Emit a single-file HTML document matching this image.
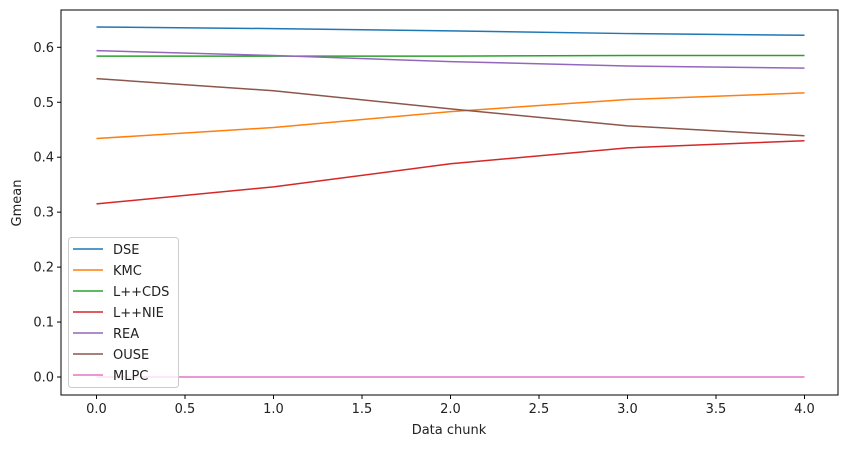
<!DOCTYPE html>
<html><head><meta charset="utf-8"><style>
body{margin:0;background:#fff;font-family:"Liberation Sans","DejaVu Sans",sans-serif}
svg text{font-family:"DejaVu Sans","Liberation Sans",sans-serif;font-size:13px;fill:#222}
</style></head><body>
<svg id="chart" width="846" height="448"></svg>
<script>
const categories=[0,1,2,3,4];
const seriesNames=["DSE","KMC","L++CDS","L++NIE","REA","OUSE","MLPC"];
const colors=["#1f77b4","#ff7f0e","#2ca02c","#d62728","#9467bd","#8c564b","#e377c2"];
const dse=[0.637,0.634,0.630,0.625,0.622];
const kmc=[0.434,0.454,0.483,0.505,0.517];
const lcds=[0.584,0.584,0.584,0.585,0.585];
const lnie=[0.315,0.346,0.388,0.417,0.430];
const rea=[0.594,0.585,0.574,0.566,0.562];
const ouse=[0.543,0.521,0.488,0.457,0.439];
const mlpc=[0,0,0,0,0];
const xTicks=[0,0.5,1,1.5,2,2.5,3,3.5,4];
const yTicks=[0,0.1,0.2,0.3,0.4,0.5,0.6];
const allSeries=[dse,kmc,lcds,lnie,rea,ouse,mlpc];
const NS="http://www.w3.org/2000/svg";
const svg=document.getElementById('chart');
const L=61,R=838,T=10,B=395;
const xs=v=>96.5+v*177;
const ys=v=>377-v*549.5;
function mk(tag,attrs,parent){const e=document.createElementNS(NS,tag);for(const k in attrs)e.setAttribute(k,attrs[k]);(parent||svg).appendChild(e);return e;}
// series
allSeries.forEach((s,i)=>{
 const p=mk('polyline',{points:s.map((v,j)=>xs(categories[j])+','+ys(v)).join(' '),fill:'none',stroke:colors[i],'stroke-width':1.5});
 
 
});
const frame=mk('rect',{x:L,y:T,width:R-L,height:B-T,fill:'none',stroke:'#000','stroke-width':1});


xTicks.forEach(t=>{
 mk('line',{x1:xs(t),x2:xs(t),y1:B,y2:B+4,stroke:'#000'});
 const tx=mk('text',{x:xs(t),y:B+18,'text-anchor':'middle'});tx.textContent=t.toFixed(1);
 
 
});
yTicks.forEach(t=>{
 mk('line',{x1:L-4,x2:L,y1:ys(t),y2:ys(t),stroke:'#000'});
 const tx=mk('text',{x:L-7,y:ys(t)+4.5,'text-anchor':'end'});tx.textContent=t.toFixed(1);
 
 
});
const xt=mk('text',{x:449,y:434,'text-anchor':'middle'});xt.textContent='Data chunk';


const yt=mk('text',{x:21,y:203,'text-anchor':'middle',transform:'rotate(-90 21 203)'});yt.textContent='Gmean';


// legend
const lg=mk('g',{});


mk('rect',{x:68.5,y:237.5,width:110,height:150,rx:3,fill:'rgba(255,255,255,0.8)',stroke:'#ccc'},lg);
seriesNames.forEach((n,i)=>{
 const y=249+i*21;
 const g=mk('g',{},lg);
 
 
 mk('line',{x1:73,x2:103,y1:y,y2:y,stroke:colors[i],'stroke-width':1.5},g);
 const t=mk('text',{x:113,y:y+5},g);t.textContent=n;
});
</script>
</body></html>
